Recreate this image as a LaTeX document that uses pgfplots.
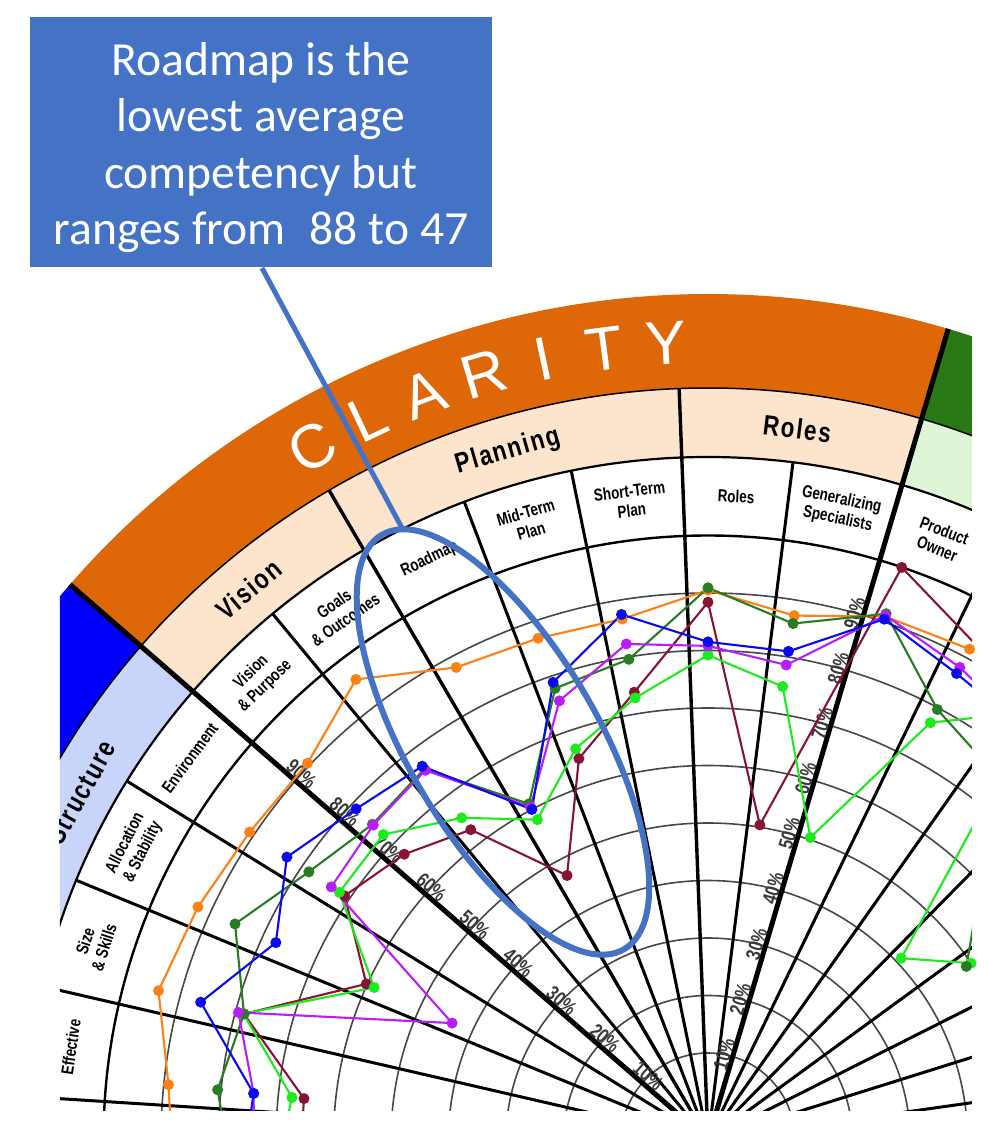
\documentclass[border=0pt]{standalone}
\usepackage{pgfplots}
\pgfplotsset{compat=1.18}
\usepackage{pgfplotstable}
\usepgfplotslibrary{polar}
\usetikzlibrary{calc}
\usepackage{fontspec}
\setmainfont{Liberation Sans}
\newfontfamily\cond[FakeStretch=0.78]{Liberation Sans}
\newfontfamily\grp[FakeStretch=0.8,LetterSpace=6]{Liberation Sans}
\newfontfamily\calib{Carlito}

\definecolor{bandorange}{RGB}{222,104,8}
\definecolor{peach}{RGB}{252,228,205}
\definecolor{bandblue}{RGB}{0,0,250}
\definecolor{lightblue}{RGB}{200,212,250}
\definecolor{banddkgreen}{RGB}{40,120,22}
\definecolor{lightgreen}{RGB}{222,246,214}
\definecolor{calloutblue}{RGB}{68,114,196}
\definecolor{sOrange}{RGB}{255,128,20}
\definecolor{sBlue}{RGB}{10,10,235}
\definecolor{sDkGreen}{RGB}{40,125,35}
\definecolor{sViolet}{RGB}{185,30,250}
\definecolor{sGreen}{RGB}{30,235,30}
\definecolor{sMaroon}{RGB}{135,20,50}

% angle (deg) and competency (%) per sub-category, one column per team
\pgfplotstableread{
ang    or    bl    dg    vi    gr    ma
183.5  88    76    78    74    70    66
174.15 89.2  74.3  80.6  74.3  67.6  65.5
164.8  93.9  86.3  78.5  79.5  78.6  78.5
155.45 92.4  77.5  85.3  43.8  58.7  60.2
146.1  90.9  83.1  78.5  73.8  72.1  71.0
136.75 90.5  78.9  75.0  74.8  72.4  67.4
127.4  95.7  76.7  76.1  75.8  65.4  62.8
118.05 88    60    61.1  60.5  58    47
108.7  87.0  78.9  77.8  75.5  66.7  64.9
99.35  86.7  87.5  79.6  82.3  72.8  73.8
90     90.5  81.5  90.9  80.8  79.2  88.4
80.65  87.3  81.0  85.9  78.6  74.8  50.4
71.3   91.0  90.5  91.5  91.2  50.4  100
61.95  91.6  86.8  79.7  88.0  77.1  93
52.6   90    85    76    85    88.8  90
43.25  89    84    60    84    41    88
33.9   88    83    49    83    50    87
}\datatab

\newcommand\sector[5]{\fill[#5] (#1:#3) arc[start angle=#1,end angle=#2,radius=#3] -- (#2:#4) arc[start angle=#2,end angle=#1,radius=#4] -- cycle;}

\pgfplotsset{ser/.style={line width=0.6pt, mark=*, mark size=1.25pt, mark options={solid}, data cs=polar}}

\begin{document}
\begin{tikzpicture}
\useasboundingbox (-70.8mm,0.7mm) rectangle (28.1mm,114mm);
\begin{scope}
\clip (-64.8mm,3mm) rectangle (26.4mm,114mm);
% outer bands
\sector{138.95}{240}{75.2mm}{84.6mm}{bandblue}
\sector{138.95}{240}{68.3mm}{75.2mm}{lightblue}
\sector{73.5}{138.95}{75.2mm}{84.6mm}{bandorange}
\sector{73.5}{138.95}{68.3mm}{75.2mm}{peach}
\sector{-40}{73.5}{75.2mm}{84.6mm}{banddkgreen}
\sector{-40}{73.5}{68.3mm}{75.2mm}{lightgreen}
% rings
\foreach \r in {8.7,14.45,20.2,25.95,31.7,37.45,43.2,48.95,54.7}
  \draw[black!72, line width=0.16mm] (0,0) circle (\r mm);
\draw[black, line width=0.24mm] (0,0) circle (60.45mm);
\draw[black, line width=0.22mm] (0,0) circle (68.3mm);
\draw[black, line width=0.15mm] (0,0) circle (75.2mm);
% spokes
\foreach \a in {185.7,176.35,167.0,157.65,148.3,129.6,110.9,101.55,82.85,64.15,54.8,45.45,36.1,26.75,17.4,8.05,-1.3}
  \draw[black, line width=0.3mm] (\a:2.9mm) -- (\a:68.3mm);
\foreach \a in {120.25,92.2}
  \draw[black, line width=0.34mm] (\a:2.9mm) -- (\a:75.2mm);
\foreach \a in {138.95,73.5}
  \draw[black, line width=0.5mm] (\a:2.9mm) -- (\a:84.6mm);
% percentage labels
\foreach \j in {1,...,9}{
  \pgfmathsetmacro\rr{(29.5+57.5*\j)/10}
  \node[text=black!78, font=\cond\bfseries\fontsize{5.8}{6.5}\selectfont, rotate=-41.05, inner sep=0pt]
    at ($(138.95:\rr mm)+(48.95:0.9mm)$) {\j0\%};
  \node[text=black!78, font=\cond\bfseries\fontsize{5.8}{6.5}\selectfont, rotate=73.5, inner sep=0pt]
    at ($(73.5:\rr mm)+(163.5:0.9mm)$) {\j0\%};
}
% sub-category labels
\foreach \a/\t in {171.7/Effective, 162.3/{Size\\\& Skills}, 153.0/{Allocation\\\& Stability},
  143.6/Environment, 134.3/{Vision\\\& Purpose}, 124.9/{Goals\\\& Outcomes}, 115.6/Roadmap,
  106.2/{Mid-Term\\Plan}, 96.9/{Short-Term\\Plan}, 87.5/Roles, 78.2/{Generalizing\\Specialists},
  68.8/{Product\\Owner}}{
  \pgfmathsetmacro\rot{\a-90}
  \node[font=\cond\bfseries\fontsize{4.9}{5.6}\selectfont, align=center, rotate=\rot, inner sep=0pt]
    at (\a:64.4mm) {\t};
}
% group labels
\foreach \a/\t in {129.85/Vision, 106.2/Planning, 82.85/Roles, 151/Structure}{
  \pgfmathsetmacro\rot{\a-90}
  \node[font=\grp\bfseries\fontsize{8}{9}\selectfont, rotate=\rot, inner sep=0pt]
    at (\a:71.7mm) {\t};
}
% CLARITY
\foreach \a/\t in {119.7/C, 115.25/L, 110.8/A, 106.35/R, 101.9/I, 97.45/T, 93.0/Y}{
  \pgfmathsetmacro\rot{\a-90}
  \node[text=white, font=\fontsize{17.5}{20}\selectfont, rotate=\rot, inner sep=0pt]
    at (\a:79.8mm) {\t};
}
\end{scope}

\begin{axis}[
  anchor=south west, at={(-64.8mm,3mm)},
  x=0.1mm, y=0.1mm,
  xmin=-648, xmax=264, ymin=30, ymax=1140,
  hide axis, clip=true, enlargelimits=false,
]
\addplot[ser, sOrange] table[x=ang, y expr={29.5+5.75*\thisrow{or}}] {\datatab};
\addplot[ser, sMaroon] table[x=ang, y expr={29.5+5.75*\thisrow{ma}}] {\datatab};
\addplot[ser, sGreen] table[x=ang, y expr={29.5+5.75*\thisrow{gr}}] {\datatab};
\addplot[ser, sDkGreen] table[x=ang, y expr={29.5+5.75*\thisrow{dg}}] {\datatab};
\addplot[ser, sViolet] table[x=ang, y expr={29.5+5.75*\thisrow{vi}}] {\datatab};
\addplot[ser, sBlue] table[x=ang, y expr={29.5+5.75*\thisrow{bl}}] {\datatab};
\end{axis}

% callout
\draw[calloutblue, line width=0.6mm, rotate around={-59.7:(-20.5mm,39.8mm)}] (-20.5mm,39.8mm) ellipse (24mm and 9.5mm);
\draw[calloutblue, line width=0.5mm] (-44.6mm,87.2mm) -- (-30.6mm,61.2mm);
\fill[calloutblue] (-67.8mm,87.3mm) rectangle (-21.6mm,112.3mm);
\node[text=white, align=center, font=\calib\fontsize{13.55}{16.1}\selectfont, inner sep=0pt]
  at (-44.7mm,99.25mm) {Roadmap is the\\lowest average\\competency but\\ranges from\enspace 88 to 47};
\end{tikzpicture}
\end{document}
